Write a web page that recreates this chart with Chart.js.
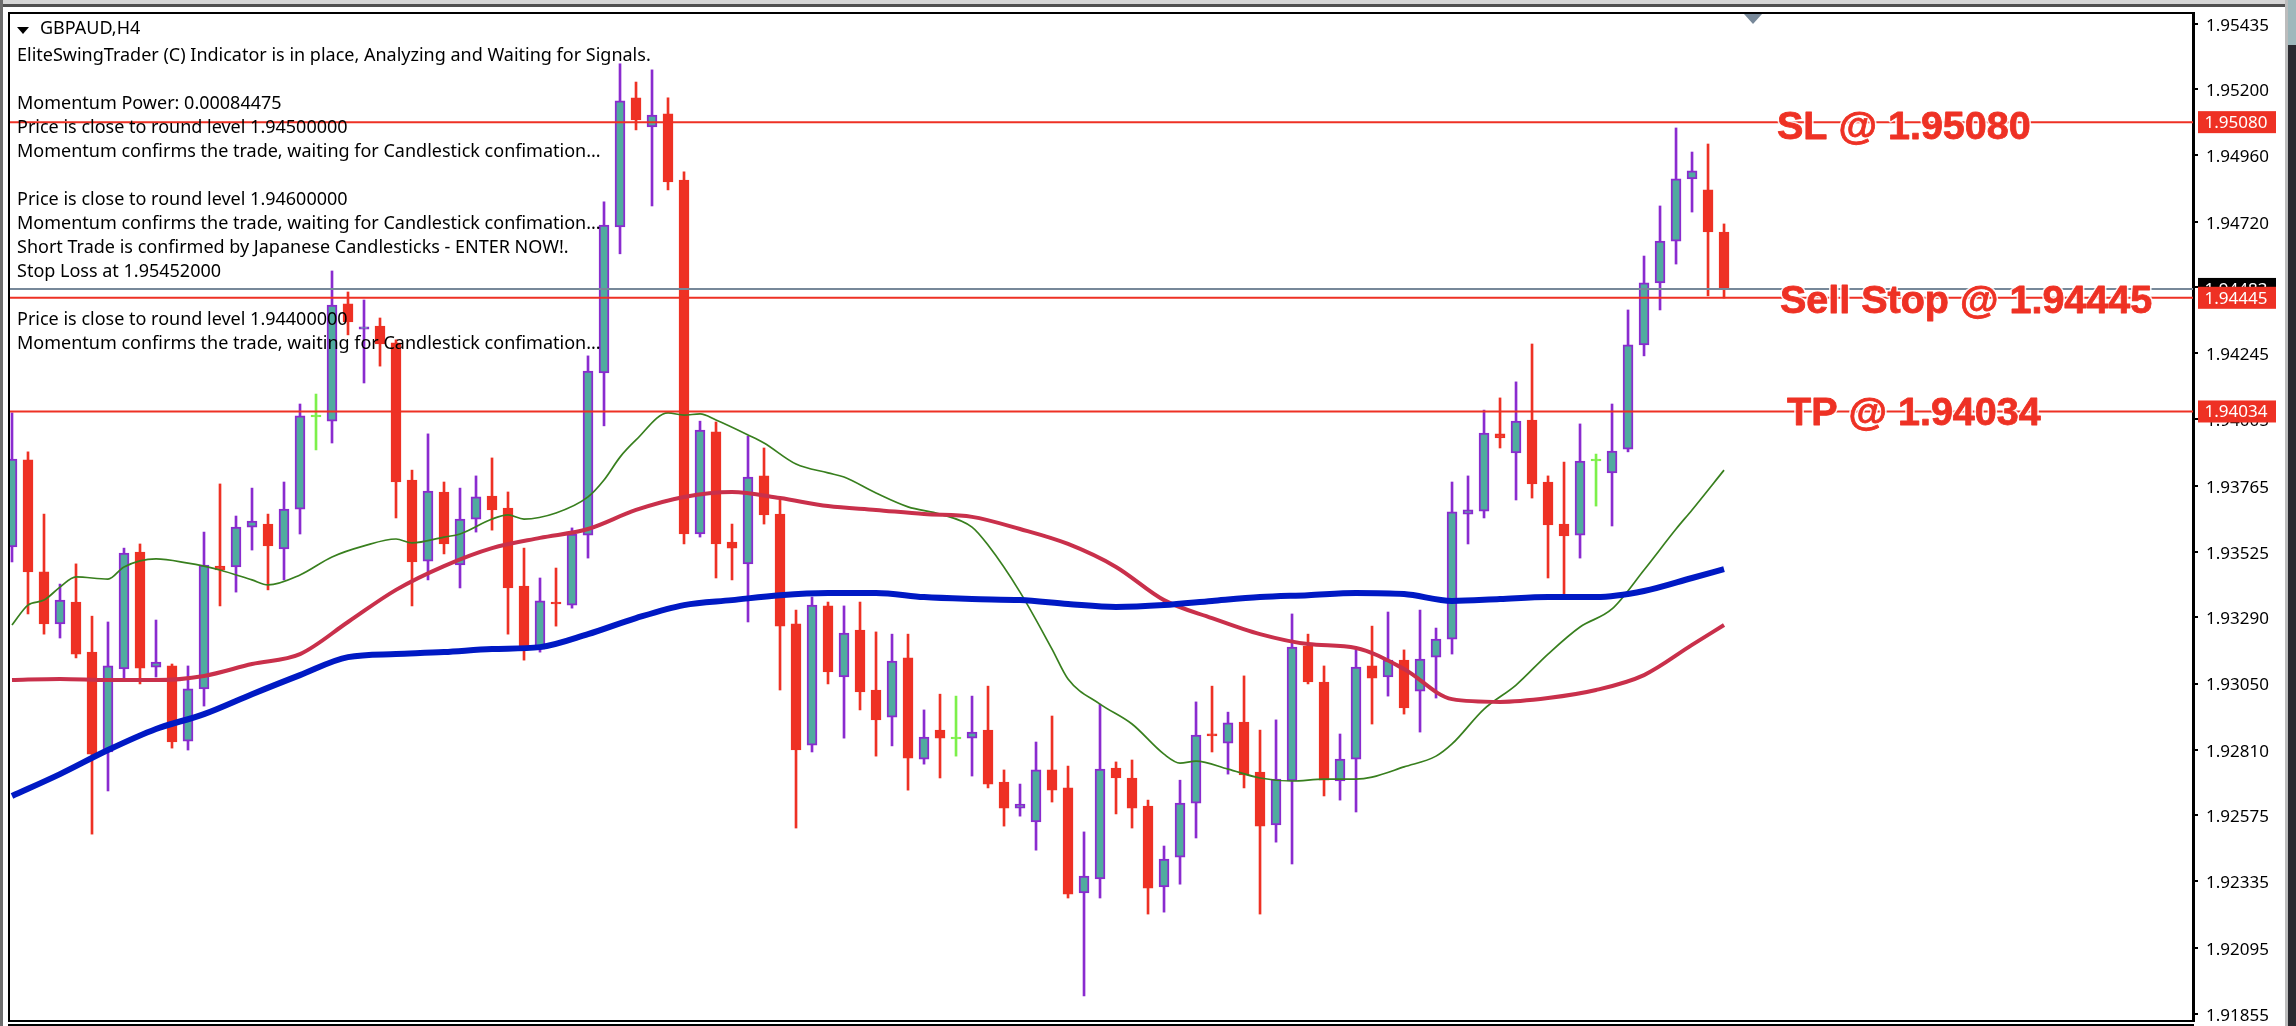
<!DOCTYPE html>
<html>
<head>
<meta charset="utf-8">
<title>GBPAUD,H4</title>
<script src="https://cdn.jsdelivr.net/npm/chart.js@4/dist/chart.umd.min.js"></script>
<style>
html, body { margin: 0; padding: 0; background: #fff; overflow: hidden; }
canvas { display: block; }
</style>
</head>
<body>
<canvas id="chart" width="2296" height="1026"></canvas>
<script>
const opens = [1.93544,1.93859,1.93454,1.93266,1.93345,1.93164,1.92803,1.93103,1.93526,1.93110,1.93114,1.92842,1.93031,1.93475,1.93472,1.93616,1.93627,1.93537,1.93681,1.94014,1.93999,1.94423,1.94332,1.94343,1.94282,1.93786,1.93493,1.93743,1.93479,1.93645,1.93728,1.93685,1.93403,1.93175,1.93345,1.93334,1.93587,1.94173,1.94701,1.95168,1.95063,1.95110,1.94871,1.93591,1.93960,1.93562,1.93483,1.93801,1.93663,1.93266,1.92828,1.93331,1.93074,1.93244,1.93027,1.92929,1.93143,1.92777,1.92882,1.92850,1.92853,1.92882,1.92694,1.92600,1.92550,1.92738,1.92673,1.92293,1.92344,1.92745,1.92709,1.92607,1.92315,1.92423,1.92618,1.92868,1.92835,1.92911,1.92730,1.92539,1.92698,1.93186,1.93056,1.92698,1.92777,1.93114,1.93074,1.93135,1.93023,1.93146,1.93211,1.93663,1.93674,1.93953,1.93884,1.94003,1.93779,1.93627,1.93587,1.93855,1.93812,1.93898,1.94275,1.94499,1.94650,1.94875,1.94835,1.94683];
const closes = [1.93862,1.93454,1.93266,1.93352,1.93157,1.92795,1.93114,1.93522,1.93106,1.93128,1.92839,1.93031,1.93479,1.93461,1.93616,1.93638,1.93548,1.93681,1.94018,1.94014,1.94419,1.94358,1.94340,1.94278,1.93779,1.93490,1.93746,1.93555,1.93645,1.93725,1.93678,1.93396,1.93182,1.93349,1.93338,1.93591,1.94180,1.94708,1.95157,1.95088,1.95106,1.94864,1.93591,1.93967,1.93555,1.93540,1.93797,1.93660,1.93258,1.92810,1.93334,1.93092,1.93233,1.93020,1.92919,1.93132,1.92781,1.92857,1.92853,1.92850,1.92875,1.92687,1.92600,1.92615,1.92738,1.92665,1.92289,1.92354,1.92741,1.92709,1.92600,1.92311,1.92416,1.92618,1.92864,1.92861,1.92908,1.92720,1.92535,1.92705,1.93182,1.93056,1.92701,1.92777,1.93110,1.93070,1.93135,1.92962,1.93139,1.93211,1.93671,1.93678,1.93956,1.93938,1.93999,1.93772,1.93624,1.93584,1.93855,1.93855,1.93891,1.94275,1.94499,1.94650,1.94875,1.94904,1.94683,1.94477];
const highs = [1.94029,1.93888,1.93663,1.93410,1.93483,1.93294,1.93273,1.93540,1.93555,1.93280,1.93121,1.93114,1.93598,1.93772,1.93656,1.93757,1.93663,1.93779,1.94061,1.94097,1.94542,1.94466,1.94437,1.94372,1.94293,1.93822,1.93953,1.93779,1.93757,1.93801,1.93866,1.93743,1.93540,1.93432,1.93468,1.93613,1.94235,1.94792,1.95291,1.95225,1.95269,1.95168,1.94900,1.93999,1.93996,1.93627,1.93945,1.93902,1.93714,1.93316,1.93363,1.93345,1.93331,1.93345,1.93237,1.93229,1.93229,1.92955,1.93012,1.93005,1.93005,1.93041,1.92738,1.92687,1.92839,1.92933,1.92752,1.92514,1.92976,1.92767,1.92774,1.92629,1.92463,1.92701,1.92984,1.93041,1.92947,1.93078,1.92882,1.92919,1.93302,1.93229,1.93114,1.92868,1.93172,1.93258,1.93309,1.93172,1.93316,1.93251,1.93779,1.93801,1.94039,1.94083,1.94141,1.94278,1.93801,1.93851,1.93989,1.93880,1.94061,1.94401,1.94596,1.94777,1.95059,1.94972,1.95001,1.94712];
const lows = [1.93490,1.93302,1.93229,1.93215,1.93143,1.92506,1.92662,1.93067,1.93049,1.93074,1.92817,1.92810,1.92969,1.93331,1.93381,1.93533,1.93389,1.93425,1.93591,1.93895,1.93920,1.94311,1.94137,1.94198,1.93649,1.93331,1.93425,1.93519,1.93396,1.93598,1.93605,1.93229,1.93135,1.93164,1.93258,1.93323,1.93504,1.93982,1.94604,1.95052,1.94777,1.94835,1.93555,1.93580,1.93432,1.93425,1.93273,1.93627,1.93027,1.92528,1.92803,1.93049,1.92853,1.92955,1.92788,1.92825,1.92665,1.92759,1.92709,1.92788,1.92716,1.92673,1.92535,1.92571,1.92448,1.92622,1.92275,1.91921,1.92275,1.92579,1.92528,1.92217,1.92224,1.92325,1.92492,1.92803,1.92723,1.92673,1.92217,1.92477,1.92398,1.93049,1.92644,1.92629,1.92586,1.92904,1.93005,1.92940,1.92875,1.92998,1.93157,1.93555,1.93649,1.93902,1.93714,1.93721,1.93432,1.93374,1.93504,1.93692,1.93620,1.93888,1.94235,1.94401,1.94567,1.94755,1.94452,1.94444];

// moving averages, read at a handful of candles
const slowIdx = [0,3,6,9,12,15,18,21,24,27,30,33,36,39,42,45,48,51,54,57,60,63,66,69,72,75,78,81,84,87,90,93,96,99,102,105,107];
const blueMA = [1.92644,1.92723,1.92810,1.92886,1.92940,1.93012,1.93081,1.93146,1.93157,1.93164,1.93175,1.93182,1.93229,1.93287,1.93334,1.93352,1.93370,1.93378,1.93378,1.93363,1.93356,1.93352,1.93338,1.93327,1.93334,1.93349,1.93363,1.93370,1.93378,1.93374,1.93349,1.93356,1.93363,1.93363,1.93385,1.93432,1.93464];
const redMA = [1.93063,1.93067,1.93063,1.93063,1.93078,1.93121,1.93157,1.93273,1.93389,1.93475,1.93540,1.93577,1.93609,1.93678,1.93725,1.93743,1.93721,1.93692,1.93678,1.93663,1.93653,1.93609,1.93555,1.93472,1.93352,1.93287,1.93229,1.93193,1.93179,1.93103,1.92994,1.92984,1.92998,1.93027,1.93081,1.93190,1.93262];
const greenIdx = [0,1,2,3,4,6,7,9,11,12,13,15,16,18,20,22,24,25,27,28,30,31,32,34,36,37,38,39,41,42,43,44,46,47,49,51,52,54,56,58,60,61,63,65,66,68,70,72,73,74,76,78,80,82,84,85,87,89,90,92,94,96,98,100,102,104,105,107];
const greenMA = [1.93262,1.93334,1.93352,1.93399,1.93436,1.93428,1.93472,1.93501,1.93486,1.93475,1.93461,1.93425,1.93407,1.93443,1.93508,1.93548,1.93573,1.93559,1.93580,1.93591,1.93645,1.93660,1.93645,1.93667,1.93725,1.93786,1.93869,1.93931,1.94029,1.94021,1.94025,1.94003,1.93949,1.93920,1.93844,1.93812,1.93797,1.93739,1.93689,1.93663,1.93616,1.93551,1.93381,1.93175,1.93067,1.92976,1.92904,1.92795,1.92763,1.92770,1.92741,1.92709,1.92698,1.92705,1.92705,1.92712,1.92749,1.92788,1.92832,1.92958,1.93045,1.93157,1.93255,1.93320,1.93461,1.93609,1.93678,1.93822];

const tickValues = [1.95435,1.95200,1.94960,1.94720,1.94485,1.94245,1.94005,1.93765,1.93525,1.93290,1.93050,1.92810,1.92575,1.92335,1.92095,1.91855];
const slLevel = 1.95080, sellLevel = 1.94445, tpLevel = 1.94034, bidLevel = 1.94477;
const bidLabel = "1.94483";
const infoLines = [
    "EliteSwingTrader (C) Indicator is in place, Analyzing and Waiting for Signals.",
    "",
    "Momentum Power: 0.00084475",
    "Price is close to round level 1.94500000",
    "Momentum confirms the trade, waiting for Candlestick confimation...",
    "",
    "Price is close to round level 1.94600000",
    "Momentum confirms the trade, waiting for Candlestick confimation...",
    "Short Trade is confirmed by Japanese Candlesticks - ENTER NOW!.",
    "Stop Loss at 1.95452000",
    "",
    "Price is close to round level 1.94400000",
    "Momentum confirms the trade, waiting for Candlestick confimation..."
];

const RED = "#ee3124", TEAL = "#50ab9f", PURPLE = "#8a2bcf", LIME = "#7cf04a", SLATE = "#778899";
const TEXT_FONT = '"Noto Sans", sans-serif';

const candleColor = (i, up, down, flat) => closes[i] > opens[i] ? up : (closes[i] < opens[i] ? down : flat);
const xIndex = opens.map((_, i) => i);
const levelLine = (value, color) => ({
    type: "line",
    data: [{ x: -1, y: value }, { x: 140, y: value }],
    borderColor: color,
    borderWidth: 2,
    pointRadius: 0,
    order: 1
});
const maLine = (idx, values, color, width) => ({
    type: "line",
    data: idx.map((x, i) => ({ x: x, y: values[i] })),
    borderColor: color,
    borderWidth: width,
    pointRadius: 0,
    cubicInterpolationMode: "monotone",
    order: 2
});

// window frame of the terminal, behind everything
const windowFrame = {
    id: "windowFrame",
    beforeDraw(chart) {
        const c = chart.ctx;
        c.save();
        c.fillStyle = "#fff";
        c.fillRect(0, 0, chart.width, chart.height);
        c.fillStyle = "#d6d6d6";
        c.fillRect(0, 0, 2285, 4);
        c.fillStyle = "#505050";
        c.fillRect(0, 4, 2285, 3);
        c.fillStyle = "#6e6e6e";
        c.fillRect(0, 0, 3, chart.height);
        c.fillStyle = "#bcbcbc";
        c.fillRect(2285, 0, 3, chart.height);
        c.fillStyle = "#2a2a30";
        c.fillRect(2288, 0, 8, chart.height);
        c.fillStyle = "#9fb8bc";
        c.fillRect(2288, 0, 8, 45);
        // second rule under the chart
        c.fillStyle = "#000";
        c.fillRect(8, 1024, 2186, 2);
        c.restore();
    }
};

// texts and price boxes on top of the marks
const overlay = {
    id: "overlay",
    afterDraw(chart) {
        const c = chart.ctx, a = chart.chartArea, y = chart.scales.y;
        c.save();
        c.strokeStyle = "#000";
        c.lineWidth = 2;
        c.strokeRect(a.left - 1, a.top - 1, a.right - a.left + 2, a.bottom - a.top + 2);

        // symbol header
        c.fillStyle = "#000";
        c.beginPath();
        c.moveTo(17, 27);
        c.lineTo(29, 27);
        c.lineTo(23, 34);
        c.closePath();
        c.fill();
        c.textBaseline = "middle";
        c.textAlign = "left";
        c.font = "18px " + TEXT_FONT;
        c.fillText("GBPAUD,H4", 40, 29);
        infoLines.forEach((line, i) => c.fillText(line, 17, 56 + i * 24));

        // marker at the top of the chart
        c.fillStyle = SLATE;
        c.beginPath();
        c.moveTo(1744, 14);
        c.lineTo(1762, 14);
        c.lineTo(1753, 24);
        c.closePath();
        c.fill();

        // price boxes
        const box = (value, label, bg) => {
            const py = y.getPixelForValue(value);
            c.fillStyle = bg;
            c.fillRect(2198, py - 11, 78, 22);
            c.fillStyle = "#fff";
            c.textAlign = "center";
            c.textBaseline = "middle";
            c.font = "17px " + TEXT_FONT;
            c.fillText(label, 2236, py + 1);
        };
        box(bidLevel, bidLabel, "#000");
        box(slLevel, slLevel.toFixed(5), RED);
        box(sellLevel, sellLevel.toFixed(5), RED);
        box(tpLevel, tpLevel.toFixed(5), RED);

        // hand written trade levels
        const note = (text, px, base) => {
            c.font = 'bold 39.5px "Liberation Sans", Arial, sans-serif';
            c.textAlign = "left";
            c.textBaseline = "alphabetic";
            c.lineJoin = "round";
            c.strokeStyle = "rgba(255,255,255,0.85)";
            c.lineWidth = 4;
            c.strokeText(text, px, base);
            c.strokeStyle = RED;
            c.lineWidth = 0.8;
            c.strokeText(text, px, base);
            c.fillStyle = RED;
            c.fillText(text, px, base);
        };
        note("SL @ 1.95080", 1777, 139);
        note("Sell Stop @ 1.94445", 1780, 313);
        note("TP @ 1.94034", 1787, 425);
        c.restore();
    }
};

new Chart(document.getElementById("chart"), {
    type: "bar",
    data: {
        datasets: [
            levelLine(slLevel, RED),
            levelLine(sellLevel, RED),
            levelLine(tpLevel, RED),
            levelLine(bidLevel, SLATE),
            maLine(slowIdx, blueMA, "#0019c4", 6),
            maLine(slowIdx, redMA, "#c9304b", 4),
            maLine(greenIdx, greenMA, "#387f1e", 1.7),
            {
                // candle bodies
                data: xIndex.map(i => ({ x: i, y: [opens[i], closes[i]] })),
                backgroundColor: xIndex.map(i => candleColor(i, TEAL, RED, LIME)),
                borderColor: xIndex.map(i => candleColor(i, PURPLE, RED, LIME)),
                borderWidth: 2,
                borderSkipped: false,
                barThickness: 10,
                minBarLength: 2,
                grouped: false,
                order: 5
            },
            {
                // wicks
                data: xIndex.map(i => ({ x: i, y: [lows[i], highs[i]] })),
                backgroundColor: xIndex.map(i => candleColor(i, PURPLE, RED, LIME)),
                borderWidth: 0,
                barThickness: 2,
                grouped: false,
                order: 6
            }
        ]
    },
    options: {
        responsive: false,
        animation: false,
        devicePixelRatio: 1,
        layout: { padding: { left: 10, top: 14, right: 0, bottom: 6 } },
        plugins: { legend: { display: false }, tooltip: { enabled: false } },
        scales: {
            x: {
                type: "linear",
                offset: false,
                min: -0.125,
                max: 136.31,
                display: false
            },
            y: {
                position: "right",
                min: 1.91834,
                max: 1.95471,
                afterFit: s => {
                    s.width = 103;
                    // the end labels must not push the plot area in
                    s.paddingTop = 0;
                    s.paddingBottom = 0;
                },
                afterBuildTicks: s => { s.ticks = tickValues.map(v => ({ value: v })); },
                border: { color: "#000", width: 2 },
                grid: { drawOnChartArea: false, color: "#000", lineWidth: 2, tickLength: 5 },
                ticks: {
                    autoSkip: false,
                    color: "#000",
                    padding: 8,
                    labelOffset: 2,
                    font: { family: "Noto Sans", size: 17 },
                    callback: v => v.toFixed(5)
                }
            }
        }
    },
    plugins: [windowFrame, overlay]
});
</script>
</body>
</html>
